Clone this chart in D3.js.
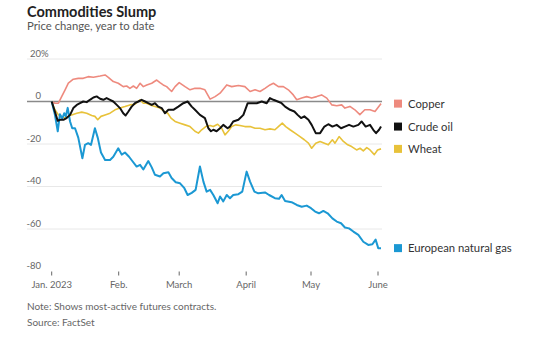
<!DOCTYPE html>
<html>
<head>
<meta charset="utf-8">
<script src="https://cdn.jsdelivr.net/npm/d3@7"></script>
<style>
  html, body { margin: 0; padding: 0; background: #fff; }
  svg { display: block; font-family: Lato, "Noto Sans", sans-serif; }
</style>
</head>
<body>
<svg id="chart" width="546" height="348"></svg>
<script>
// ---------- DATA (days since Jan 1 2023, % change year to date) ----------
const seriesNames = ["Copper", "Crude oil", "Wheat", "European natural gas"];

const copperDays = [0,1.5,3.1,4.6,6.2,7.7,10.0,12.3,14.6,16.9,19.3,22.4,24.7,26.2,28.5,30.8,33.1,34.7,36.2,37.8,39.3,40.9,42.4,44.0,46.3,48.6,50.1,51.6,53.2,55.5,57.1,59.0,61.7,64.0,66.3,68.6,70.9,73.3,75.6,77.9,81.0,83.3,86.4,89.4,91.8,94.1,96.4,98.7,101.0,102.6,104.9,107.2,109.5,111.8,113.4,115.7,118.0,120.3,122.6,124.9,127.3,129.6,131.9,134.2,135.7,138.0,140.3,142.6,144.9,147.3,149.6,151.9,152.4];
const copperValues = [0,-0.8,-0.8,2.3,5.5,8.6,10.5,10.9,10.9,11.7,11.4,12,12.5,11.4,9.4,8.6,7,7.3,6.2,7.3,6.2,8.6,7,7.8,8.6,10.1,8.9,7.8,7,4.7,7,8.9,7.0,5.5,6.2,6.2,5.5,1.1,2.3,3.9,7.8,7.0,7.5,7.0,4.7,5.5,4.7,6.2,7.8,8.6,7.0,7.0,5.5,3.1,0.8,1.6,2.3,1.6,2.3,3.1,1.6,-1.6,-2.0,-1.6,-3.1,-2.3,-3.9,-6.2,-3.9,-3.9,-4.7,-1.6,-1.0];

const crudeDays = [0,1.2,2.8,3.8,5.4,6.9,8.5,10.0,11.6,13.1,14.6,16.2,17.7,19.3,20.8,22.4,23.9,25.4,27.0,28.5,30.1,31.6,33.1,34.2,35.5,37.0,38.5,40.1,41.6,43.2,44.7,46.3,47.8,49.3,50.9,52.4,54.0,56.3,58.6,60.9,62.9,64.8,66.3,68.6,70.9,72.5,73.7,74.8,76.3,77.9,79.4,81.4,82.5,84.0,86.4,88.7,90.7,92.5,94.9,97.2,99.5,101.0,102.6,104.6,106.4,108.0,110.3,112.3,113.8,115.4,116.9,118.8,120.3,122.2,124.2,126.2,128.0,129.9,131.9,133.9,135.7,137.6,139.6,141.9,143.4,145.3,147.3,148.8,150.1,151.5,152.4];
const crudeValues = [0,-3.9,-9.1,-8.6,-8.6,-7.8,-6.3,-3.1,-1.6,-0.8,0,-0.3,0.8,1.9,2.4,1.3,0.8,1.6,0.8,0,-1.6,-3.1,-5.5,-6.6,-4.7,-2.4,-0.8,0,0.8,0,-0.8,-1.6,-0.8,-2.4,-3.1,-5.5,-3.9,-3.9,-2.4,-0.8,0,-2.4,-3.9,-6.3,-7.8,-12.6,-14,-13.3,-14,-12.6,-11,-12.6,-11.8,-9.4,-8.6,-6.3,-0.8,-0.8,-0.8,0,-0.8,1.6,0.8,0,-0.8,-2.4,-3.9,-4.7,-6.3,-7.8,-7,-8.6,-11,-14.9,-14.9,-11.8,-10.7,-11.8,-11,-12.6,-11.8,-11,-11.8,-11,-9.4,-11.8,-11,-13.3,-14.9,-13.3,-11.8];

const wheatDays = [0,1.5,3.1,4.6,6.2,7.7,9.2,11.6,13.9,16.2,18.5,20.0,21.3,22.8,24.7,27.0,29.3,31.6,33.9,36.2,38.5,40.9,42.4,43.9,45.5,47.8,50.1,52.1,53.7,55.2,57.1,59.4,61.7,64.0,66.3,67.9,69.4,71.3,73.3,74.8,76.8,78.7,80.2,81.7,83.3,85.1,87.1,89.4,91.8,94.1,96.4,98.7,101.0,103.3,104.9,106.7,108.3,110.3,112.6,114.9,116.9,118.8,120.3,122.2,124.2,126.2,128.0,129.9,131.1,133.0,135.0,137.0,138.8,141.1,142.7,144.2,145.8,147.3,149.3,150.8,152.4];
const wheatValues = [0,-3.9,-6.3,-7,-7.8,-7,-6.3,-5.5,-5,-5.5,-6.6,-7,-8.6,-7,-6.3,-5.5,-3.9,-3.1,-2.4,-1.6,-1.3,0.8,-0.8,-0.8,-1.6,-2.4,-3.1,-4.7,-5.5,-7.8,-9.4,-10.2,-11,-11.8,-14,-14.9,-13.3,-11.8,-11.3,-11.8,-10.7,-12.6,-15.7,-14,-11.8,-11,-11.3,-11.8,-11.8,-12.6,-12.6,-13.3,-12.9,-13.3,-11.8,-10.2,-11.8,-13.3,-14.9,-16.5,-18,-19.6,-22,-19.6,-18.8,-19.6,-20.4,-18,-19.6,-16.5,-18.8,-20.4,-21.2,-22.8,-22,-23.2,-21.7,-22.8,-25,-22.8,-22.3];

const gasDays = [0,1.5,2.8,3.8,4.9,5.8,6.5,7.4,8.5,9.5,10.8,12.3,14.2,15.4,16.9,18.2,20.0,21.3,22.8,24.7,27.0,28.5,30.8,32.4,33.9,35.8,37.3,39.3,40.9,42.4,44.7,46.3,47.8,50.1,51.7,54.0,55.5,57.4,59.4,61.4,62.9,64.8,66.6,68.6,70.2,71.7,73.3,74.8,76.8,77.9,79.4,81.0,82.5,84.0,86.4,88.2,90.2,91.8,93.8,95.6,98.7,100.6,103.3,105.2,106.4,108.0,111.0,113.4,115.7,118.0,120.0,121.9,123.7,125.7,127.7,129.9,131.9,133.9,135.7,137.6,139.6,141.9,144.2,146.5,148.4,149.9,151.1,152.4];
const gasValues = [0,-6.3,-14,-6,-8,-5.5,-7,-3,-9.4,-12.6,-12.6,-17,-26.7,-20.4,-19.6,-20.4,-12.6,-17,-24,-27.5,-27.5,-26,-22,-25,-24,-26,-28,-30.6,-29.8,-32,-28,-31,-34.5,-35.3,-33.8,-33.3,-36,-38,-38.5,-40.8,-44,-43,-41.6,-30.6,-37.7,-42.4,-41.6,-44,-47.9,-44.7,-47,-44,-45.5,-44,-43.6,-42.4,-33,-37.7,-42.4,-43.2,-42.8,-44,-45.5,-45.8,-44,-46.8,-47.4,-48.7,-49.5,-49,-50.2,-51.8,-52.6,-51.5,-52.6,-55,-56.5,-57.3,-59.3,-59.7,-61.2,-62.8,-66,-67.5,-67.2,-65,-69,-69];

const yTicks = [20, 0, -20, -40, -60, -80];
const xTickDates = ["2023-01-01","2023-02-01","2023-03-01","2023-04-01","2023-05-01","2023-06-01"];
const xTickLabels = ["Jan. 2023","Feb.","March","April","May","June"];

// ---------- STYLE ----------
const colors = ["#ee8a7e", "#111111", "#e8c23a", "#1b98d3"];
const widths = [1.6, 2, 1.6, 2];

const svg = d3.select("#chart");
const t0 = Date.UTC(2023, 0, 1);
const toDate = d => new Date(t0 + d * 864e5);

const x = d3.scaleUtc()
  .domain([new Date("2023-01-01T00:00:00Z"), new Date("2023-06-01T00:00:00Z")])
  .range([51.7, 378]);
const y = d3.scaleLinear().domain([-80, 20]).range([271.5, 59]);

const plotRight = 382;

// Title
svg.append("text").attr("x", 27).attr("y", 16.5)
  .attr("font-size", 14.5).attr("font-weight", 700).attr("fill", "#222")
  .text("Commodities Slump");
svg.append("text").attr("x", 27).attr("y", 30)
  .attr("font-size", 11.3).attr("fill", "#555")
  .text("Price change, year to date");

// Gridlines
const grid = svg.append("g");
yTicks.filter(v => v !== 0 && v !== -80).forEach(v => {
  grid.append("line")
    .attr("x1", 27).attr("x2", plotRight)
    .attr("y1", y(v)).attr("y2", y(v))
    .attr("stroke", "#e8e8e8").attr("stroke-width", 1);
});

// Y labels
yTicks.forEach(v => {
  const t = svg.append("text")
    .attr("x", 41).attr("y", y(v) - 2.5)
    .attr("font-size", 9.5).attr("fill", "#666")
    .attr("text-anchor", "end")
    .text(v);
  if (v === 20) {
    t.attr("text-anchor", "start").attr("x", 41 - 0).text("");
    const tmp = svg.append("text").attr("font-size", 9.5).text("20");
    const w = tmp.node().getComputedTextLength(); tmp.remove();
    t.attr("x", 41 - w);
    t.append("tspan").text("20");
    t.append("tspan").text("%");
  }
});

// X axis ticks
const xg = svg.append("g");
xTickDates.forEach((d, i) => {
  const xp = x(new Date(d + "T00:00:00Z"));
  xg.append("line").attr("x1", xp).attr("x2", xp)
    .attr("y1", y(-80)).attr("y2", y(-80) + 4)
    .attr("stroke", "#666").attr("stroke-width", 1);
  xg.append("text").attr("x", xp).attr("y", 288)
    .attr("text-anchor", "middle").attr("font-size", 9.5).attr("fill", "#666")
    .text(xTickLabels[i]);
});

// Series
const series = [
  { days: copperDays, values: copperValues },
  { days: crudeDays, values: crudeValues },
  { days: wheatDays, values: wheatValues },
  { days: gasDays, values: gasValues }
];
const line = d3.line().x(d => x(d[0])).y(d => y(d[1]));

// zero line (drawn beneath lines)
svg.append("line")
  .attr("x1", 27).attr("x2", plotRight)
  .attr("y1", y(0)).attr("y2", y(0))
  .attr("stroke", "#8a8a8a").attr("stroke-width", 1.3);

[0, 2, 3, 1].forEach(i => {
  const s = series[i];
  const pts = s.days.map((d, j) => [toDate(d), s.values[j]]);
  svg.append("path").datum(pts)
    .attr("d", line)
    .attr("fill", "none")
    .attr("stroke", colors[i])
    .attr("stroke-width", widths[i])
    .attr("stroke-linejoin", "round");
});

// Legend at series ends
series.forEach((s, i) => {
  const yy = y(s.values[s.values.length - 1]);
  svg.append("rect").attr("x", 394).attr("y", yy - 4).attr("width", 8).attr("height", 8)
    .attr("fill", colors[i]);
  svg.append("text").attr("x", 408).attr("y", yy + 4)
    .attr("font-size", 11.3).attr("fill", "#333")
    .text(seriesNames[i]);
});

// Note & source
svg.append("text").attr("x", 27).attr("y", 310)
  .attr("font-size", 10).attr("fill", "#666")
  .text("Note: Shows most-active futures contracts.");
svg.append("text").attr("x", 27).attr("y", 326)
  .attr("font-size", 10).attr("fill", "#666")
  .text("Source: FactSet");
</script>
</body>
</html>
